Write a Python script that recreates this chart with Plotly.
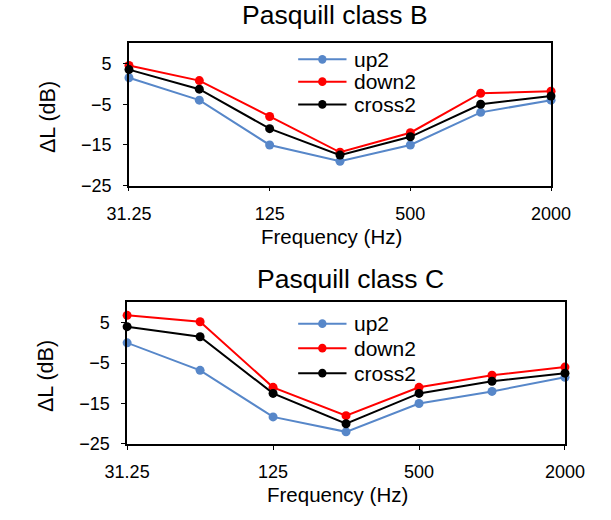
import math
import plotly.graph_objects as go

# Octave-band centre frequencies (Hz)
freq = [31.25, 62.5, 125, 250, 500, 1000, 2000]
freq_ticks = [31.25, 125, 500, 2000]
freq_labels = ["31.25", "125", "500", "2000"]

# Excess attenuation ΔL (dB), Pasquill class B
b_up2 = [1.5, -4, -15, -19, -15, -7, -4]
b_down2 = [4.5, 0.8, -8, -16.8, -12, -2.3, -1.8]
b_cross2 = [3.5, -1.3, -11, -17.5, -13, -5, -3]

# Excess attenuation ΔL (dB), Pasquill class C
c_up2 = [0, -6.8, -18.3, -22, -15, -12, -8.5]
c_down2 = [6.8, 5.2, -11, -18, -11, -8, -6]
c_cross2 = [4, 1.5, -12.5, -20, -12.5, -9.5, -7.5]

series_names = ["up2", "down2", "cross2"]
series_colors = ["#5787C9", "#FF0000", "#000000"]

W, H = 611, 520
FONT = "Liberation Sans, Arial, sans-serif"


def px(x):
    return x / W


def py(y):
    return 1 - y / H


fig = go.Figure()

panels = [
    dict(data=[b_up2, b_down2, b_cross2], xa="x", ya="y",
         xdom=[px(114), px(568)], ydom=[py(189.3), py(44)],
         title="Pasquill class B", title_xy=(336, 15.7), xt_y=241.5, yt_x=27,
         leg_x0=296, leg_x1=348, leg_rows=[60.5, 83.3, 106.5]),
    dict(data=[c_up2, c_down2, c_cross2], xa="x2", ya="y2",
         xdom=[px(112), px(583)], ydom=[py(452.7), py(308.3)],
         title="Pasquill class C", title_xy=(352, 284.5), xt_y=504.5, yt_x=24,
         leg_x0=296, leg_x1=348, leg_rows=[330, 355, 380.5]),
]

annotations = []
shapes = []

for i, p in enumerate(panels):
    for vals, name, col in zip(p["data"], series_names, series_colors):
        fig.add_trace(go.Scatter(
            x=freq, y=vals, name=name, mode="lines+markers",
            xaxis=p["xa"], yaxis=p["ya"], showlegend=False,
            line=dict(color=col, width=2),
            marker=dict(color=col, size=9, symbol="circle"),
            cliponaxis=False,
        ))

    ax_suffix = "" if i == 0 else "2"
    axis_common = dict(showline=True, linecolor="#000000", linewidth=1.5,
                       mirror=True, showgrid=False, zeroline=False,
                       ticks="outside", ticklen=4, tickwidth=1.2,
                       tickcolor="#000000",
                       tickfont=dict(family=FONT, size=18, color="#000000"))
    fig.update_layout(**{
        "xaxis" + ax_suffix: dict(
            domain=p["xdom"], anchor="y" + ax_suffix, type="log",
            range=[math.log10(freq[0]), math.log10(freq[-1])],
            tickmode="array", tickvals=freq_ticks, ticktext=freq_labels,
            ticklabelstandoff=7, **axis_common),
        "yaxis" + ax_suffix: dict(
            domain=p["ydom"], anchor="x" + ax_suffix,
            range=[-25, 10], tick0=-25, dtick=10,
            ticklabelstandoff=8, **axis_common),
    })

    tx, ty = p["title_xy"]
    annotations.append(dict(text=p["title"], x=px(tx), y=py(ty),
                            xref="paper", yref="paper", showarrow=False,
                            xanchor="center", yanchor="middle",
                            font=dict(family=FONT, size=26.5, color="#000000")))
    xc = (p["xdom"][0] + p["xdom"][1]) / 2
    annotations.append(dict(text="Frequency (Hz)", x=xc - px(9.5), y=py(p["xt_y"]),
                            xref="paper", yref="paper", showarrow=False,
                            xanchor="center", yanchor="middle",
                            font=dict(family=FONT, size=20.5, color="#000000")))
    yc = (p["ydom"][0] + p["ydom"][1]) / 2
    annotations.append(dict(text="ΔL (dB)", x=px(p["yt_x"]), y=yc - 0.005,
                            xref="paper", yref="paper", showarrow=False,
                            textangle=-90, xanchor="center", yanchor="middle",
                            font=dict(family=FONT, size=21.5, color="#000000")))

    # legend block inside the plot area
    for row_y, name, col in zip(p["leg_rows"], series_names, series_colors):
        shapes.append(dict(type="line", xref="paper", yref="paper",
                           x0=px(p["leg_x0"]), x1=px(p["leg_x1"]),
                           y0=py(row_y), y1=py(row_y),
                           line=dict(color=col, width=2)))
        mx = (p["leg_x0"] + p["leg_x1"]) / 2
        r = 4.5
        shapes.append(dict(type="circle", xref="paper", yref="paper",
                           x0=px(mx - r), x1=px(mx + r),
                           y0=py(row_y + r), y1=py(row_y - r),
                           fillcolor=col, line=dict(color=col, width=0)))
        annotations.append(dict(text=name, x=px(p["leg_x1"] + 6), y=py(row_y),
                                xref="paper", yref="paper", showarrow=False,
                                xanchor="left", yanchor="middle",
                                font=dict(family=FONT, size=21, color="#000000")))

fig.update_layout(
    width=W, height=H,
    margin=dict(l=0, r=0, t=0, b=0),
    paper_bgcolor="#FFFFFF", plot_bgcolor="#FFFFFF",
    showlegend=False,
    annotations=annotations, shapes=shapes,
    font=dict(family=FONT, color="#000000"),
)

fig.write_html("out.html")
